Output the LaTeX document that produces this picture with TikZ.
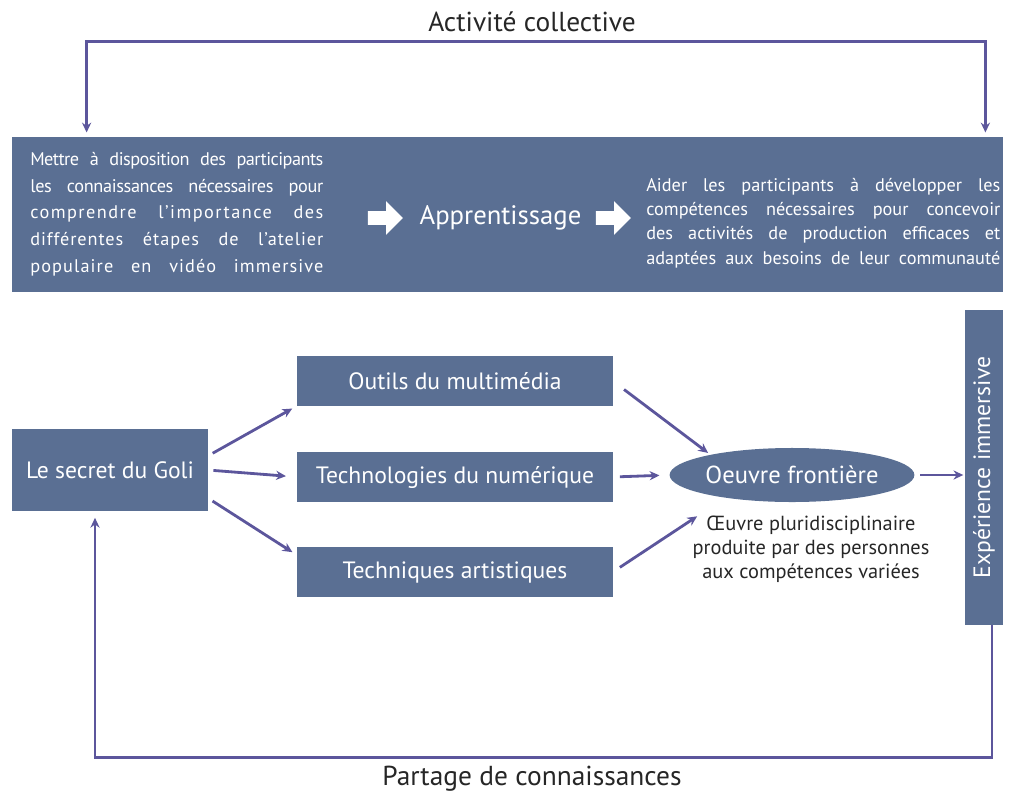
\documentclass[tikz,border=0pt]{standalone}
\usepackage{fontspec}
\setmainfont{PT Sans}
\usetikzlibrary{arrows.meta,shapes.geometric,shapes.arrows,positioning}
\definecolor{boxblue}{RGB}{90,111,147}
\definecolor{linkviolet}{RGB}{92,86,156}
\tikzset{
  box/.style={fill=boxblue, text=white, inner sep=0pt, font=\fontsize{16.8}{19}\selectfont},
  flow/.style={draw=linkviolet, line width=2pt, >={Stealth[length=7pt,width=6.5pt]}, ->},
  whitearrow/.style={single arrow, fill=white, inner xsep=0pt, inner ysep=0.165cm,
    minimum height=0.875cm, minimum width=0.75cm},
  caption/.style={font=\fontsize{19.5}{22}\selectfont, text=black!85}
}
% one line stretched to the full width of its block
\newcommand{\fillline}[2]{\makebox[#1][s]{#2}}

\begin{document}
\begin{tikzpicture}[x=0.025cm, y=-0.025cm]
\useasboundingbox (0,0) rectangle (1009,796);

% upper band
\node[box, minimum width=24.775cm, minimum height=3.875cm] (band) at (507.5,214.5) {};
\node[anchor=west, text=white, align=left, inner sep=0pt,
  font=\fontsize{13}{19}\selectfont] (knowledge) at (30,214) {%
  \fillline{7.325cm}{\addfontfeature{LetterSpace=-3}Mettre à disposition des participants}\\
  \fillline{7.325cm}{\addfontfeature{LetterSpace=-2}les connaissances nécessaires pour}\\
  \fillline{7.325cm}{\addfontfeature{LetterSpace=8}comprendre l’importance des}\\
  \fillline{7.325cm}{\addfontfeature{LetterSpace=5}différentes étapes de l’atelier}\\
  \fillline{7.325cm}{\addfontfeature{LetterSpace=6}populaire en vidéo immersive}};
\node[whitearrow] (step1) at (382,218) {};
\node[right=0.4cm of step1, text=white, inner sep=0pt,
  font=\fontsize{19}{22}\selectfont] (learn) {Apprentissage};
\node[whitearrow, right=0.35cm of learn] (step2) {};
\node[anchor=west, text=white, align=left, inner sep=0pt,
  font=\fontsize{13}{17.3}\selectfont] (skills) at (646,223) {%
  \fillline{8.85cm}{Aider les participants à développer les}\\
  \fillline{8.85cm}{compétences nécessaires pour concevoir}\\
  \fillline{8.85cm}{des activités de production efficaces et}\\
  \fillline{8.85cm}{adaptées aux besoins de leur communauté}};

\node[caption] (collective) at (532,22) {Activité collective};
\draw[flow, <->, shorten <=3pt, shorten >=3pt]
  ([xshift=1.875cm]band.north west) -- ++(0,-95) -| ([xshift=-0.45cm]band.north east);

% lower part
\node[box, minimum width=4.875cm, minimum height=2.025cm] (goli) at (110,470) {Le secret du Goli};
\node[box, minimum width=7.875cm, minimum height=1.225cm] (outils) at (455,381) {Outils du multimédia};
\node[box, minimum width=7.875cm, minimum height=1.225cm] (techno) at (455,477) {Technologies du numérique};
\node[box, minimum width=7.875cm, minimum height=1.225cm] (techart) at (455,572) {Techniques artistiques};
\node[ellipse, fill=boxblue, text=white, inner sep=0pt, minimum width=5.55cm, minimum height=1.35cm,
  font=\fontsize{17.5}{19}\selectfont] (oeuvre) at (792,475) {Oeuvre frontière};
\node[align=center, inner sep=0pt, text=black!85, font=\fontsize{14.5}{17}\selectfont]
  (note) at (811,549) {Œuvre pluridisciplinaire\\produite par des personnes\\aux compétences variées};
\node[box, rotate=90, minimum width=7.875cm, minimum height=0.95cm] (exp) at (984,467.5) {Expérience immersive};

\draw[flow, shorten <=4pt, shorten >=4pt] ([yshift=0.35cm]goli.east) -- (outils.south west);
\draw[flow, shorten <=4pt, shorten >=8pt] (goli.east) -- (techno.west);
\draw[flow, shorten <=4pt, shorten >=4pt] ([yshift=-0.7cm]goli.east) -- ([yshift=-0.2cm]techart.north west);
\draw[flow, shorten <=10pt, shorten >=2pt] (outils.east) -- (oeuvre.166);
\draw[flow, shorten <=5pt, shorten >=7pt] (techno.east) -- (oeuvre.west);
\draw[flow, shorten <=6pt, shorten >=1pt] (techart.east) -- ([xshift=0.15cm]note.north west);
\draw[flow, shorten <=4pt, shorten >=1pt] (oeuvre.east) -- (oeuvre.east -| exp.north);

\draw[flow, shorten >=5pt] (exp.west) ++(0.2cm,0) -- ++(0,132) -| ([xshift=-0.375cm]goli.south);
\node[caption] (partage) at (532,779) {Partage de connaissances};
\end{tikzpicture}
\end{document}
